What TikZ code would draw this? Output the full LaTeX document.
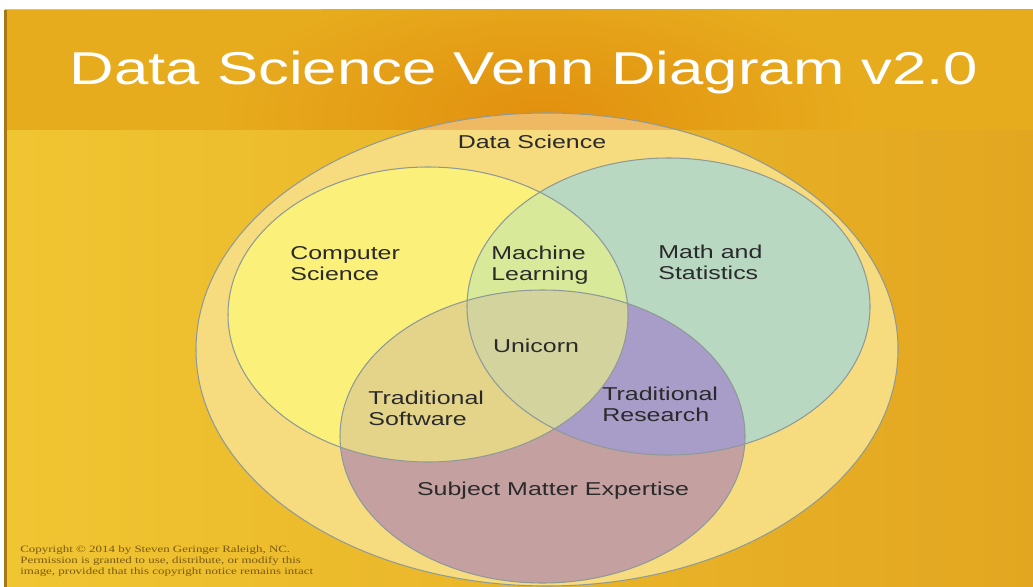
\documentclass[tikz,border=0pt]{standalone}
\usepackage{fontspec}
\usepackage{xcolor}
\usepackage{tikz}
\newfontfamily\vennsans[FakeStretch=1.34]{Liberation Sans}
\newfontfamily\vennserif[FakeStretch=1.34]{Liberation Serif}
\usetikzlibrary{positioning}

\definecolor{bgleft}{HTML}{F0C532}
\definecolor{bgright}{HTML}{E3A620}
\definecolor{bandside}{HTML}{E7AC1E}
\definecolor{bandmid}{HTML}{E2900E}
\definecolor{edgeline}{HTML}{A87818}
\definecolor{dsfill}{HTML}{F6DC7E}
\definecolor{dspeach}{HTML}{EFB862}
\definecolor{csfill}{HTML}{FAF07A}
\definecolor{msfill}{HTML}{B9D8C2}
\definecolor{smefill}{HTML}{C5A0A0}
\definecolor{mlfill}{HTML}{D9E99A}
\definecolor{tsfill}{HTML}{E3D48A}
\definecolor{trfill}{HTML}{A89CC8}
\definecolor{unifill}{HTML}{D3D39E}
\definecolor{setedge}{HTML}{8F9A98}
\definecolor{labelgray}{HTML}{2A2A2A}
\definecolor{notebrown}{HTML}{7A5A12}

\tikzset{
  setline/.style={draw=setedge,line width=0.6pt},
  venntext/.style={inner sep=0pt,text=labelgray,align=left,
    font=\vennsans\fontsize{10.6}{12}\selectfont},
}

% the four sets
\def\dsset{(547,349.5) ellipse [x radius=351, y radius=236.5]}
\def\csset{(428,314.5) ellipse [x radius=200, y radius=147.5]}
\def\msset{(668.5,306.5) ellipse [x radius=201.5, y radius=148.5]}
\def\smeset{(542.5,436.5) ellipse [x radius=202.5, y radius=146.5]}

\begin{document}
\begin{tikzpicture}[x=0.02cm,y=-0.02cm]
\useasboundingbox (0,0) rectangle (1033,587);
\fill[white] (0,0) rectangle (1033,587);
% background and header band
\shade[left color=bgleft,right color=bgright] (5,10) rectangle (1033,587);
\fill[bandside] (5,10) rectangle (1033,130);
\begin{scope}
  \clip (5,10) rectangle (1033,130);
  \shade[inner color=bandmid,outer color=bandside] (540,115) ellipse [x radius=330, y radius=140];
\end{scope}
\fill[edgeline] (4,10) rectangle (7,587);

% sets
\fill[dsfill] \dsset;
\begin{scope}
  \clip (5,10) rectangle (1033,130);
  \fill[dspeach] \dsset;
\end{scope}
\fill[csfill] \csset;
\fill[msfill] \msset;
\fill[smefill] \smeset;
\begin{scope}
  \clip \csset;
  \fill[mlfill] \msset;
  \fill[tsfill] \smeset;
\end{scope}
\begin{scope}
  \clip \msset;
  \fill[trfill] \smeset;
\end{scope}
\begin{scope}
  \clip \csset;
  \clip \msset;
  \fill[unifill] \smeset;
\end{scope}
\foreach \s in {\dsset,\csset,\msset,\smeset}
  \draw[setline] \s;

% texts
\node[anchor=base,text=white,inner sep=0pt,font=\vennsans\fontsize{26.2}{30}\selectfont]
  (title) at (524,85) {Data Science Venn Diagram v2.0};
\node[venntext,anchor=base] (ds) at (532,149) {Data Science};
\node[venntext,anchor=west] (cs) at (290,264) {Computer\\Science};
\node[venntext,anchor=west] (ml) at (491,265) {Machine\\Learning};
\node[venntext,anchor=west] (ms) at (658,262) {Math and\\Statistics};
\node[venntext,anchor=base] (uni) at (536,352) {Unicorn};
\node[venntext,anchor=west] (ts) at (368,408) {Traditional\\Software};
\node[venntext,anchor=west] (tr) at (602,404) {Traditional\\Research};
\node[venntext,anchor=base] (sme) at (553,495) {Subject Matter Expertise};
\node[anchor=base west,inner sep=0pt,align=left,text=notebrown,
  font=\vennserif\fontsize{5.5}{6.2}\selectfont] (note) at (20,574)
  {Copyright \textcopyright{} 2014 by Steven Geringer Raleigh, NC.\\
   Permission is granted to use, distribute, or modify this\\
   image, provided that this copyright notice remains intact};
\end{tikzpicture}
\end{document}
